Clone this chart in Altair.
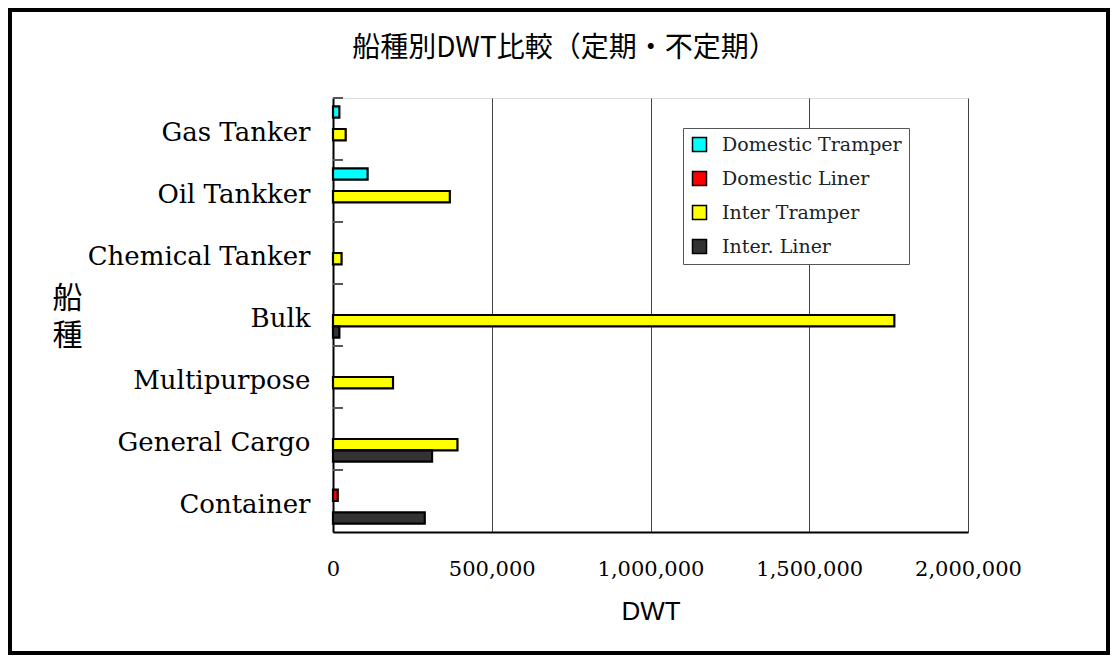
import altair as alt
import pandas as pd

categories = ["Gas Tanker", "Oil Tankker", "Chemical Tanker", "Bulk",
              "Multipurpose", "General Cargo", "Container"]
series_names = ["Domestic Tramper", "Domestic Liner", "Inter Tramper", "Inter. Liner"]
series_colors = ["#00FFFF", "#FF0000", "#FFFF00", "#333333"]

domestic_tramper = [20000, 109000, None, None, None, None, None]
domestic_liner = [None, None, None, None, None, None, 15000]
inter_tramper = [40000, 368000, 27000, 1768000, 189000, 392000, None]
inter_liner = [None, None, None, 20000, None, 312000, 289000]

x_ticks = [0, 500000, 1000000, 1500000, 2000000]

rows = []
for name, vals in zip(series_names, [domestic_tramper, domestic_liner, inter_tramper, inter_liner]):
    for cat, v in zip(categories, vals):
        if v is not None:
            rows.append({"category": cat, "series": name, "dwt": v})
df = pd.DataFrame(rows)
cat_df = pd.DataFrame({"category": categories})

W, H = 635, 434
PL, PT = 325, 90
TOTAL_W, TOTAL_H = 1102, 647

y_enc = alt.Y(
    "category:N",
    sort=categories,
    scale=alt.Scale(domain=categories, paddingInner=0.27, paddingOuter=0.135),
    axis=alt.Axis(
        title=["船", "種"],
        titleAngle=0,
        titleFont="Noto Sans CJK JP",
        titleFontSize=30,
        titleFontWeight="normal",
        titleLineHeight=37,
        titleBaseline="middle",
        titleAlign="center",
        titleX=-266,
        titleY=200,
        labelFont="DejaVu Serif",
        labelFontSize=26,
        labelColor="black",
        labelPadding=23,
        labelOffset=4,
        labelLimit=400,
        ticks=False,
        domainColor="black",
        domainWidth=2,
        grid=False,
    ),
)

bars = alt.Chart(df).mark_bar(stroke="black", strokeWidth=2.2, opacity=1).encode(
    x=alt.X(
        "dwt:Q",
        scale=alt.Scale(domain=[0, 2000000], nice=False),
        axis=alt.Axis(
            values=x_ticks,
            format=",d",
            title="DWT",
            titleFont="Liberation Sans",
            titleFontSize=26,
            titleFontWeight="normal",
            titleColor="black",
            titlePadding=19,
            labelFont="DejaVu Serif",
            labelFontSize=21,
            labelColor="black",
            labelPadding=26,
            labelFlush=False,
            labelLimit=300,
            ticks=False,
            domainColor="black",
            domainWidth=2,
            grid=True,
            gridColor="#444444",
            gridWidth=1,
            gridOpacity=1,
        ),
    ),
    y=y_enc,
    yOffset=alt.YOffset("series:N", sort=series_names,
                        scale=alt.Scale(domain=series_names, paddingInner=0, paddingOuter=0)),
    color=alt.Color(
        "series:N",
        sort=series_names,
        scale=alt.Scale(domain=series_names, range=series_colors),
        legend=alt.Legend(
            title=None,
            orient="none",
            legendX=350,
            legendY=30,
            symbolType="square",
            symbolSize=196,
            symbolStrokeColor="black",
            symbolStrokeWidth=1.5,
            symbolOpacity=1,
            labelFont="DejaVu Serif",
            labelFontSize=19,
            labelColor="#222222",
            labelOffset=13,
            labelLimit=400,
            rowPadding=13,
            padding=7,
            strokeColor="#555555",
            fillColor="white",
        ),
    ),
)

ticks = alt.Chart(cat_df).mark_rule(color="#555555", strokeWidth=2, yOffset=-8.4).encode(
    y=alt.Y("category:N", sort=categories, bandPosition=0),
    x=alt.value(0),
    x2=alt.value(10),
)

frame = alt.Chart(alt.Data(values=[{"k": 1}])).mark_rect(
    fill=None, stroke="black", strokeWidth=4
).encode(
    x=alt.value(-PL + 2),
    x2=alt.value(TOTAL_W - PL - 2),
    y=alt.value(-PT + 2),
    y2=alt.value(TOTAL_H - PT - 2),
)

chart = alt.layer(bars, ticks, frame).properties(
    width=W,
    height=H,
    autosize=alt.AutoSizeParams(type="none"),
    padding={"left": PL, "top": PT, "right": TOTAL_W - PL - W, "bottom": TOTAL_H - PT - H},
    title=alt.TitleParams(
        text="船種別DWT比較（定期・不定期）",
        font="Noto Sans CJK JP",
        fontSize=28,
        fontWeight="normal",
        color="black",
        anchor="middle",
        frame="group",
        baseline="bottom",
        dx=-86,
        dy=116,
        offset=33,
    ),
).configure_view(stroke="#555555", strokeWidth=1).configure(background="white")

chart.save("out.html", embed_options={"renderer": "svg", "actions": False})
